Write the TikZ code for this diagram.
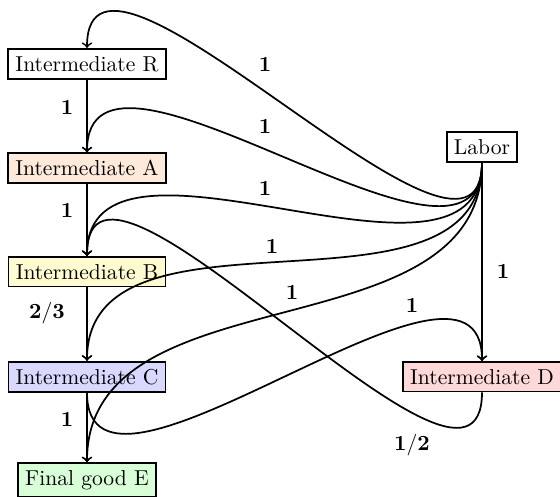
\documentclass[tikz,border=0pt]{standalone}
\usetikzlibrary{arrows}
\definecolor{fillA}{RGB}{253,234,218}
\definecolor{fillB}{RGB}{255,251,208}
\definecolor{fillC}{RGB}{217,217,255}
\definecolor{fillD}{RGB}{255,217,217}
\definecolor{fillE}{RGB}{217,255,217}
\begin{document}
\begin{tikzpicture}[x=0.4633pt, y=0.4633pt,
    good/.style={draw, thick, inner sep=0.333em},
    flow/.style={->, thick},
    qty/.style={inner sep=0pt}]
  \useasboundingbox (0,0) rectangle (560,497);

  % goods in the production chain
  \node[good] (R) at (87,433.2) {Intermediate R};
  \node[good, fill=fillA] (A) at (87,328.7) {Intermediate A};
  \node[good, fill=fillB] (B) at (87,225.3) {Intermediate B};
  \node[good, fill=fillC] (C) at (87,120.3) {Intermediate C};
  \node[good, fill=fillE] (E) at (87,17) {Final good E};
  \node[good] (L) at (482,350) {Labor};
  \node[good, fill=fillD] (D) at (482,120.3) {Intermediate D};

  % direct inputs down the chain
  \draw[flow] (R) -- (A);
  \draw[flow] (A) -- (B);
  \draw[flow] (B) -- (C);
  \draw[flow] (C) -- (E);
  \draw[flow] (L) -- (D);

  % labor inputs
  \draw[flow] (L.south) to[out=-90,in=90] (R.north);
  \draw[flow] (L.south) to[out=-90,in=90] (A.north);
  \draw[flow] (L.south) to[out=-90,in=90] (B.north);
  \draw[flow] (L.south) to[out=-90,in=90] (C.north);
  \draw[flow] (L.south) to[out=-90,in=90] (E.north);

  % cross inputs through D
  \draw[flow] (C.south) to[out=-90,in=90] (D.north);
  \draw[flow] (D.south) to[out=-90,in=90] (B.north);

  % input quantities
  \node[qty] (qRA) at (67,389) {$\mathbf{1}$};
  \node[qty] (qAB) at (67,286) {$\mathbf{1}$};
  \node[qty] (qBC) at (47,184) {$\mathbf{2/3}$};
  \node[qty] (qCE) at (67,77) {$\mathbf{1}$};
  \node[qty] (qLR) at (265,432) {$\mathbf{1}$};
  \node[qty] (qLA) at (265,370) {$\mathbf{1}$};
  \node[qty] (qLB) at (265,308) {$\mathbf{1}$};
  \node[qty] (qLC) at (272,250) {$\mathbf{1}$};
  \node[qty] (qLE) at (292,204) {$\mathbf{1}$};
  \node[qty] (qCD) at (412,191) {$\mathbf{1}$};
  \node[qty] (qDB) at (412,52) {$\mathbf{1/2}$};
  \node[qty] (qLD) at (503,225) {$\mathbf{1}$};
\end{tikzpicture}
\end{document}
